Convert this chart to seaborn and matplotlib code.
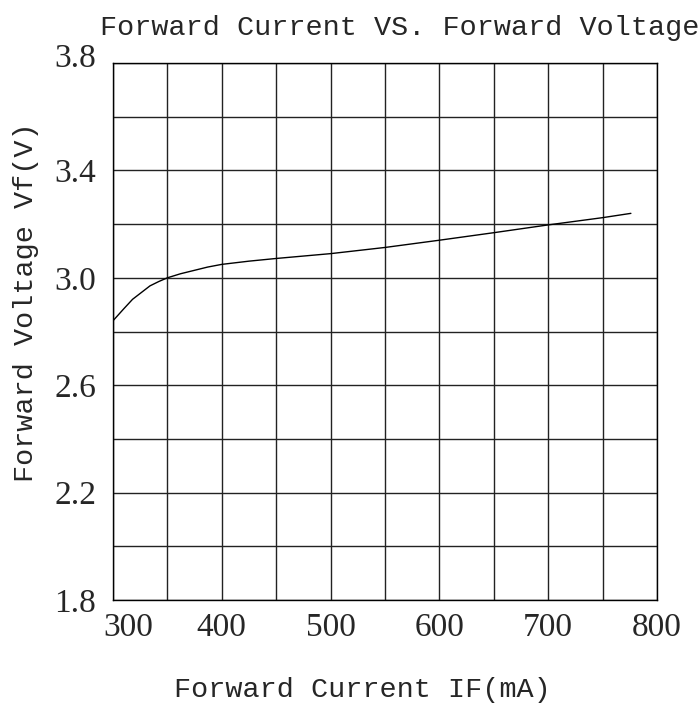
"""Forward current vs forward voltage curve (LED datasheet style)."""
import matplotlib
matplotlib.use("Agg")
import matplotlib.pyplot as plt
import matplotlib.transforms as mtransforms
import numpy as np
import pandas as pd
import seaborn as sns

# Curve
current_ma = [300, 310, 318, 326, 334, 342, 350, 362, 375, 387, 400, 425, 450,
              500, 550, 600, 650, 700, 750, 776]
voltage_v = [2.84, 2.885, 2.92, 2.945, 2.97, 2.986, 3.00, 3.015, 3.028, 3.04, 3.05, 3.062, 3.072,
             3.09, 3.113, 3.14, 3.168, 3.197, 3.224, 3.24]

x_ticks = [300, 400, 500, 600, 700, 800]
y_ticks = [1.8, 2.2, 2.6, 3.0, 3.4, 3.8]

MONO = "Liberation Mono"
SERIF = "Liberation Serif"

sns.set_theme(style="white")
plt.rcParams["font.family"] = [SERIF, "DejaVu Serif"]

df = pd.DataFrame({"IF": current_ma, "VF": voltage_v})

fig = plt.figure(figsize=(7.0, 7.06), dpi=100)
ax = fig.add_axes([113 / 700, 106 / 706, 544 / 700, 537 / 706])

sns.lineplot(data=df, x="IF", y="VF", color="black", linewidth=1.0, ax=ax)

ax.set_xlim(300, 800)
ax.set_ylim(1.8, 3.8)

# grid every 50 mA / 0.2 V
ax.set_xticks(np.arange(300, 801, 50), minor=True)
ax.set_yticks(np.round(np.arange(1.8, 3.81, 0.2), 1), minor=True)
ax.grid(which="both", color="#222222", linewidth=1.0)
ax.set_axisbelow(True)

ax.set_xticks(x_ticks)
ax.set_xticklabels([str(t) for t in x_ticks])
ax.set_yticks(y_ticks)
ax.set_yticklabels([f"{t:.1f}" for t in y_ticks])
ax.tick_params(which="both", length=0)
ax.tick_params(axis="x", labelsize=24, pad=9)
ax.tick_params(axis="y", labelsize=24, pad=12)

# the 300 label sits a little right of the axis corner
lbl = ax.get_xticklabels()[0]
lbl.set_transform(lbl.get_transform() + mtransforms.ScaledTranslation(15 / 100, 0, fig.dpi_scale_trans))
# the 3.8 label sits a little above the top edge
top = ax.get_yticklabels()[-1]
top.set_transform(top.get_transform() + mtransforms.ScaledTranslation(0, 8 / 100, fig.dpi_scale_trans))

for s in ax.spines.values():
    s.set_color("black")
    s.set_linewidth(1.0)

ax.set_xlabel("")
ax.set_ylabel("")
fig.text(362 / 700, 1 - 697 / 706, "Forward Current IF(mA)", family=MONO,
         fontsize=20.5, ha="center", va="baseline")
fig.text(26 / 700, 1 - 302 / 706, "Forward Voltage Vf(V)", family=MONO,
         fontsize=20.5, ha="center", va="center", rotation=90)
fig.text(400 / 700, 1 - 35 / 706, "Forward Current VS. Forward Voltage", family=MONO,
         fontsize=20.5, ha="center", va="baseline")

fig.savefig("out.png", dpi=100, facecolor="white")
